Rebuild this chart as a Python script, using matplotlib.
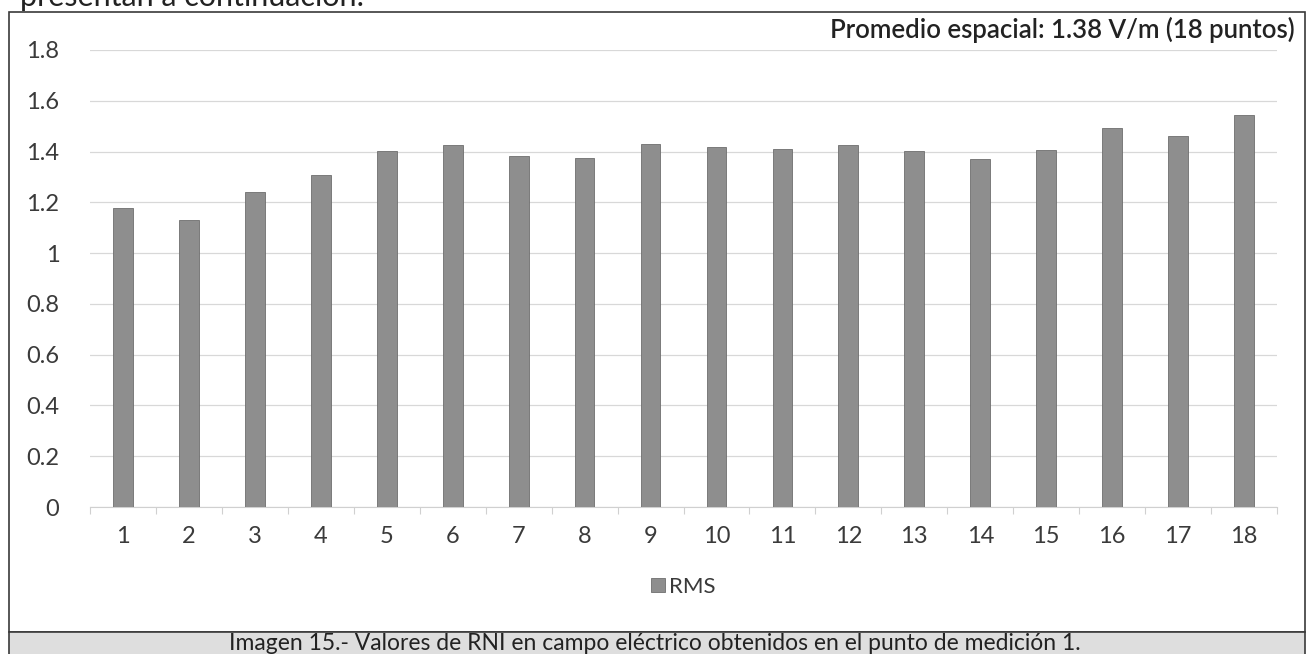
import numpy as np
import matplotlib
matplotlib.use("Agg")
import matplotlib.pyplot as plt
from matplotlib.patches import Rectangle

plt.rcParams['font.family'] = ['Lato', 'DejaVu Sans']

# datos
puntos = [str(i) for i in range(1, 19)]
rms = [1.176, 1.131, 1.240, 1.307, 1.401, 1.425, 1.384, 1.374, 1.431,
       1.419, 1.410, 1.427, 1.402, 1.369, 1.406, 1.491, 1.462, 1.544]
yticks = [0, 0.2, 0.4, 0.6, 0.8, 1, 1.2, 1.4, 1.6, 1.8]
ytick_labels = ['0', '0.2', '0.4', '0.6', '0.8', '1', '1.2', '1.4', '1.6', '1.8']
promedio = 'Promedio espacial: 1.38 V/m (18 puntos)'
pie = 'Imagen 15.- Valores de RNI en campo eléctrico obtenidos en el punto de medición 1.'

W, H = 1310, 654
fig = plt.figure(figsize=(W/100, H/100), dpi=100)

# marco exterior y banda del pie
fig.patches.append(Rectangle((9/W, 22/H), 1296/W, 620/H, transform=fig.transFigure,
                             facecolor='white', edgecolor='#3a3a3a', lw=1.2, zorder=-2))
fig.patches.append(Rectangle((9/W, -0.01), 1296/W, 22/H + 0.01, transform=fig.transFigure,
                             facecolor='#dedede', edgecolor='#3a3a3a', lw=1.2, zorder=-2))
fig.text(655/W, 10/H, pie, ha='center', va='center', fontsize=16.5, color='#222222')
fig.text(20/W, (H-6)/H, 'presentan a continuación:', ha='left', va='baseline', fontsize=22,
         color='#222222')

ax = fig.add_axes([90/W, (H-507)/H, (1277-90)/W, (507-50)/H])
x = np.arange(len(rms))
ax.bar(x, rms, width=0.3, color='#8e8e8e', edgecolor='#6e6e6e', linewidth=0.6,
       label='RMS', zorder=3)

ax.set_xlim(-0.5, len(rms) - 0.5)
ax.set_ylim(0, 1.8)
ax.set_yticks(yticks)
ax.set_yticklabels(ytick_labels)
ax.set_xticks(x)
ax.set_xticklabels(puntos)
ax.set_xticks(np.arange(-0.5, len(rms)), minor=True)
ax.tick_params(axis='both', which='major', length=0, labelsize=17, colors='#3a3a3a')
ax.tick_params(axis='x', which='major', pad=14)
ax.tick_params(axis='y', which='major', pad=22)
ax.tick_params(axis='x', which='minor', length=5, color='#d0d0d0', width=0.8)
ax.grid(axis='y', color='#d8d8d8', linewidth=0.9, zorder=0)
for s in ['top', 'right', 'left']:
    ax.spines[s].set_visible(False)
ax.spines['bottom'].set_color('#d0d0d0')
ax.set_facecolor('none')

ax.legend(loc='center', bbox_to_anchor=(0.5, (H-587-(H-507))/(507-50)), frameon=False,
          fontsize=16, handlelength=0.6, handleheight=0.6, handletextpad=0.2,
          labelcolor='#3a3a3a')

fig.text(1295/W, (H-30)/H, promedio, ha='right', va='center', fontsize=18.5,
         fontweight='semibold', color='#222222')

fig.savefig('out.png', dpi=100)
